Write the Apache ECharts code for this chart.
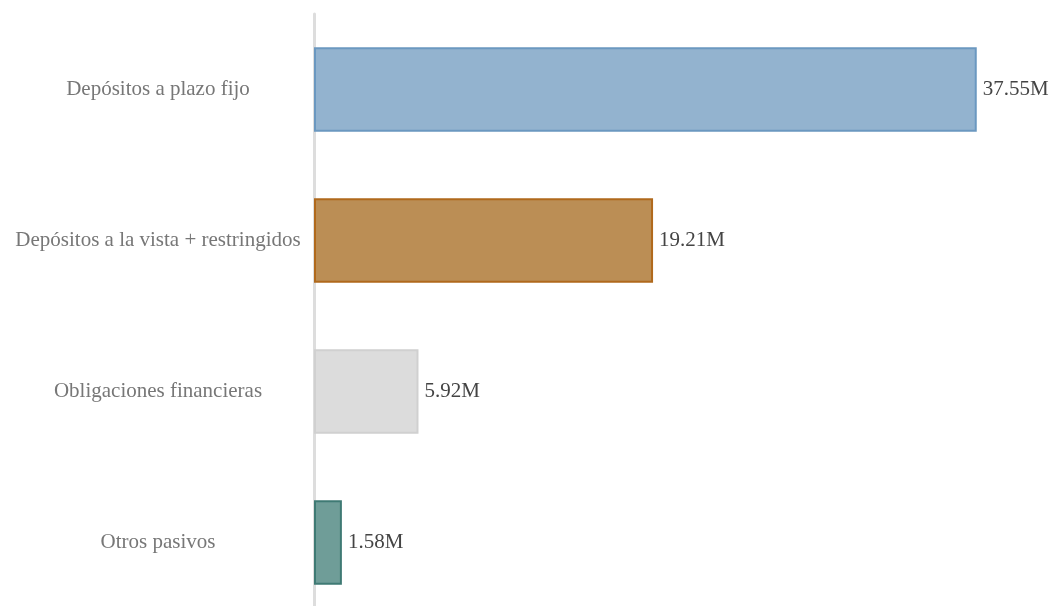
<!DOCTYPE html>
<html>
<head>
<meta charset="utf-8">
<script src="https://cdn.jsdelivr.net/npm/echarts@6/dist/echarts.min.js"></script>
<style>
  html, body { margin: 0; padding: 0; background: #ffffff; }
  #chart { width: 1055px; height: 606px; }
</style>
</head>
<body>
<div id="chart"></div>
<script>
// Composición de pasivos (millones)
const categories = [
  'Depósitos a plazo fijo',
  'Depósitos a la vista + restringidos',
  'Obligaciones financieras',
  'Otros pasivos'
];
const values = [37.55, 19.21, 5.92, 1.58];

// Relleno y borde de cada barra
const fillColors = ['#93b3cf', '#bb8e55', '#dcdcdc', '#6f9d98'];
const borderColors = ['#6b98c0', '#b0691c', '#d0d0d0', '#3f7a74'];

const serif = '"Liberation Serif", "DejaVu Serif", serif';

const chart = echarts.init(document.getElementById('chart'), null, { renderer: 'canvas' });

chart.setOption({
  animation: false,
  backgroundColor: '#ffffff',
  grid: {
    left: 314, width: 706, top: 14, height: 604,
    containLabel: false,
    outerBoundsMode: 'none'
  },
  xAxis: {
    type: 'value',
    min: 0,
    max: 40,
    show: false,
    splitLine: { show: false }
  },
  yAxis: {
    type: 'category',
    data: categories,
    inverse: true,
    axisLine: { show: true, lineStyle: { color: '#dddddd', width: 3 } },
    axisTick: { show: false },
    splitLine: { show: false },
    axisLabel: {
      align: 'center',
      margin: 156,
      color: '#777777',
      fontFamily: serif,
      fontSize: 21
    }
  },
  series: [{
    type: 'bar',
    barCategoryGap: '44%',
    data: values.map((v, i) => ({
      value: v,
      itemStyle: { color: fillColors[i], borderColor: borderColors[i], borderWidth: 2 }
    })),
    label: {
      show: true,
      position: 'right',
      distance: 6,
      color: '#444444',
      fontFamily: serif,
      fontSize: 21,
      formatter: p => p.value.toFixed(2) + 'M'
    }
  }]
});
</script>
</body>
</html>
